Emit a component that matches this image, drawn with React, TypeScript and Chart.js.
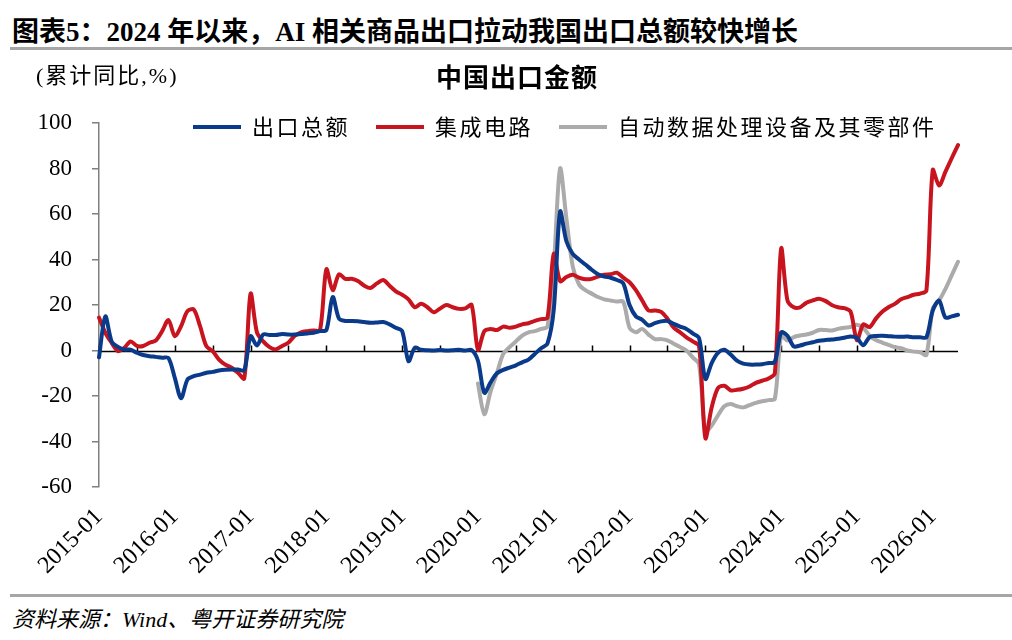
import React, { useEffect, useRef } from 'react';
import { Chart, registerables } from 'chart.js';

Chart.register(...registerables);

// ---------- data ----------
const START_YEAR = 2015;
const MONTH_COUNT = 137; // 2015-01 .. 2026-05
const categories: string[] = Array.from({ length: MONTH_COUNT }, (_, i) =>
  `${START_YEAR + Math.floor(i / 12)}-${String((i % 12) + 1).padStart(2, '0')}`
);

const seriesNames = ['出口总额', '集成电路', '自动数据处理设备及其零部件'];

const totalExports: number[] = [
  -3, 15, 4, 1.6, 0.4, 0.4, -1, -2, -2.5, -2.8, -3.2, -3.3,
  -12, -21, -12.8, -11.3, -10.6, -9.8, -9.4, -8.8, -8.5, -8.4, -8.4, -8.7,
  6.3, 2.2, 7, 6.8, 6.8, 7.3, 7, 7, 7.3, 7.5, 7.8, 8.5,
  9, 23.5, 14, 13, 13, 12.9, 12.5, 12.2, 12.3, 12.5, 11.5, 10,
  8.5, -4.7, 1.2, 0.3, 0.1, 0, 0.2, 0, 0.1, 0.3, 0, 0.2,
  -4.5, -18.6, -14, -10, -8.5, -7.5, -6.5, -5.2, -4, -1.5, 1, 3,
  18, 61, 48, 42.5, 40, 37.8, 35.5, 33.5, 32.5, 32, 31, 29.5,
  20, 15, 13.5, 11, 12, 12.8, 13, 11.7, 10.5, 9.5, 7.5, 5.5,
  -12.5, -5.5, -1, 0.3, -1.8, -4.5, -5.8, -6.2, -6.2, -6, -5.5, -5,
  8, 6.5, 1.8, 2.2, 3, 3.6, 4.3, 4.6, 4.8, 5.2, 5.6, 6.2,
  5.5, 2.3, 5.9, 6.4, 6.5, 6.3, 6.1, 6, 6.1, 5.8, 5.8, 5.8,
  17.5, 22, 14.5, 15, 15.7,
];

const integratedCircuits: number[] = [
  14.5, 7.8, 3.4, -0.3, 1.2, 4, 2, 2, 3.4, 4.4, 8.5, 13.4,
  6.3, 10.7, 17.3, 18, 10.7, 1.9, -0.3, -4, -6.2, -7.6, -9.8, -12.3,
  25, 8, 4, 1.5, 0.5, 2, 3.5, 6.5, 8, 8.5, 8.8, 9,
  35.7, 26.5, 33.5, 31.5, 31.5, 30.5, 28.5, 27.5, 29.5, 31, 28.5, 26,
  24.5, 22.5, 19, 20.5, 19, 16.8, 18.5, 20, 19, 18.3, 18.5, 20,
  0.3, 8.5, 9.5, 9, 10.5, 10, 10.5, 11.5, 12, 13, 13.8, 14.4,
  42.5, 30.5, 32.3, 33.3, 32, 31.3, 31.5, 32.5, 33.3, 33.5, 34.2, 32,
  30, 26.5, 22, 17.6, 17.6, 17, 14, 10, 8, 5.8, 4, 2,
  -38.5, -25, -16.5, -15.5, -17.5, -17.3, -16.8, -15.8, -14.2, -13.3, -12.3, -10,
  44.8, 22, 19, 19, 21, 22, 22.8, 21.8, 20, 19, 18.6, 17,
  4.5, 11.5, 10.3, 14, 17, 19, 20.5, 22.5, 23.5, 24.5, 25, 26.4,
  79.3, 72.5, 78.5, 84.5, 90.3,
];

const dataProcessing: (number | null)[] = [
  null, null, null, null, null, null, null, null, null, null, null, null,
  null, null, null, null, null, null, null, null, null, null, null, null,
  null, null, null, null, null, null, null, null, null, null, null, null,
  null, null, null, null, null, null, null, null, null, null, null, null,
  null, null, null, null, null, null, null, null, null, null, null, null,
  -14.5, -28, -18, -10, -1.5, 1.5, 4, 6.5, 8, 8.5, 9.5, 10.5,
  37, 80, 58, 37, 29, 26.5, 25, 23.5, 22.5, 22, 21.5, 21.5,
  10, 8, 9.5, 7, 5, 5, 4.5, 3, 1.5, 0, -3, -6,
  -35.5, -33, -28.5, -24.5, -23.5, -24.5, -25, -24, -23, -22.3, -21.8, -21.3,
  6.6, 4.4, 5.9, 6.6, 7, 7.8, 9, 9, 8.8, 9.5, 10, 10.3,
  11.3, 10, 6.5, 4.6, 3.5, 2.5, 1.5, 1, 0, -0.5, -0.8, -1.9,
  18.4, 22, 27, 33, 39,
];

const Y_MIN = -60;
const Y_MAX = 100;
const Y_STEP = 20;
const LABEL_EVERY = 12;
const MINOR_TICK_EVERY = 6;

// ---------- styles ----------
const BLUE = '#0A3A8A';
const RED = '#C8141E';
const GRAY = '#ABABAB';
const AXIS_GRAY = '#7F7F7F';
const CANVAS_W = 1012;
const CANVAS_H = 545;
const CANVAS_TOP = 50;
const LEGEND_START_X = 193;
const LEGEND_CENTER_Y = 127 - CANVAS_TOP;
const LEGEND_FONT = 22;
const LEGEND_SPACING = '2.5px';

const zeroAxisPlugin = {
  id: 'zeroAxis',
  beforeDatasetsDraw(chart: any) {
    const { ctx, chartArea, scales } = chart;
    const x = scales.x;
    const y = scales.y;
    const y0 = Math.round(y.getPixelForValue(0)) + 0.5;
    ctx.save();
    ctx.strokeStyle = '#000';
    ctx.lineWidth = 1.5;
    ctx.beginPath();
    ctx.moveTo(chartArea.left, y0);
    ctx.lineTo(chartArea.right, y0);
    ctx.stroke();
    ctx.beginPath();
    for (let i = 0; i < categories.length; i += MINOR_TICK_EVERY) {
      const px = Math.round(x.getPixelForValue(i)) + 0.5;
      ctx.moveTo(px, y0);
      ctx.lineTo(px, y0 - 6);
    }
    ctx.stroke();
    ctx.restore();
  },
};

const legendTweakPlugin = {
  id: 'legendTweak',
  afterInit(chart: any) {
    const lg = chart.legend;
    if (!lg) return;
    const wrap = (name: string) => {
      const orig = lg[name].bind(lg);
      lg[name] = (...args: any[]) => {
        const ctx = chart.ctx as any;
        const prev = ctx.letterSpacing;
        ctx.letterSpacing = LEGEND_SPACING;
        try {
          return orig(...args);
        } finally {
          ctx.letterSpacing = prev ?? '0px';
        }
      };
    };
    wrap('fit');
    wrap('draw');
  },
  afterLayout(chart: any) {
    const lg = chart.legend;
    if (!lg || !lg.lineWidths) return;
    const pad = lg.options.labels.padding;
    const curX = (lg.left + pad + lg.right - lg.lineWidths[0]) / 2;
    const dx = LEGEND_START_X - curX;
    const curY = lg.top + pad + LEGEND_FONT / 2;
    const dy = LEGEND_CENTER_Y - curY;
    lg.left += dx;
    lg.right += dx;
    lg.top += dy;
    lg.bottom += dy;
  },
};

function ExportChart() {
  const ref = useRef<HTMLCanvasElement | null>(null);

  useEffect(() => {
    if (!ref.current) return;
    const lineDs = (label: string, data: (number | null)[], color: string) => ({
      label,
      data,
      borderColor: color,
      backgroundColor: color,
      borderWidth: 4,
      pointRadius: 0,
      pointHoverRadius: 0,
      tension: 0.3,
      spanGaps: false,
      borderCapStyle: 'round' as const,
      borderJoinStyle: 'round' as const,
    });

    const chart = new Chart(ref.current, {
      type: 'line',
      data: {
        labels: categories,
        datasets: [
          lineDs(seriesNames[0], totalExports, BLUE),
          lineDs(seriesNames[1], integratedCircuits, RED),
          lineDs(seriesNames[2], dataProcessing, GRAY),
        ],
      },
      options: {
        responsive: false,
        animation: false,
        events: [],
        layout: { padding: { top: 15, right: 54, bottom: 0, left: 0 } },
        plugins: {
          title: { display: false },
          tooltip: { enabled: false },
          legend: {
            display: true,
            position: 'top',
            align: 'center',
            labels: {
              boxWidth: 48,
              boxHeight: 4,
              padding: 26,
              color: '#000',
              font: { family: '"Noto Sans CJK SC"', size: LEGEND_FONT },
              generateLabels: (c: any) =>
                (Chart.defaults.plugins.legend.labels.generateLabels as any)(c).map((l: any) => ({
                  ...l,
                  lineWidth: 0,
                })),
            },
          },
        },
        scales: {
          x: {
            type: 'category',
            position: 'bottom',
            grid: { display: false, drawTicks: false },
            border: { display: false },
            afterFit: (scale: any) => {
              scale.height = 108;
            },
            ticks: {
              autoSkip: false,
              minRotation: 45,
              maxRotation: 45,
              padding: 16,
              color: '#000',
              font: { family: '"Liberation Serif"', size: 24 },
              callback: (_v: any, i: number) => (i % LABEL_EVERY === 0 ? categories[i] : ''),
            },
          },
          y: {
            min: Y_MIN,
            max: Y_MAX,
            afterFit: (scale: any) => {
              scale.width = 99;
            },
            border: { display: true, color: AXIS_GRAY, width: 1.5 },
            grid: {
              drawOnChartArea: false,
              drawTicks: true,
              tickLength: 7,
              color: AXIS_GRAY,
              lineWidth: 1.5,
            },
            ticks: {
              stepSize: Y_STEP,
              padding: 20,
              color: '#000',
              font: { family: '"Liberation Serif"', size: 23 },
            },
          },
        },
      },
      plugins: [zeroAxisPlugin, legendTweakPlugin],
    });
    return () => chart.destroy();
  }, []);

  return (
    <canvas
      ref={ref}
      width={CANVAS_W}
      height={CANVAS_H}
      style={{ position: 'absolute', left: 0, top: CANVAS_TOP, width: CANVAS_W, height: CANVAS_H }}
    />
  );
}

export default function App() {
  const serifCjk = '"Liberation Serif", "Noto Sans CJK SC", serif';
  return (
    <div
      style={{
        position: 'fixed',
        left: 0,
        top: 0,
        width: 1012,
        height: 640,
        background: '#fff',
        overflow: 'hidden',
      }}
    >
      <div
        style={{
          position: 'absolute',
          left: 12,
          top: 14,
          font: `bold 27px ${serifCjk}`,
          lineHeight: '36px',
          whiteSpace: 'nowrap',
          color: '#000',
        }}
      >
        图表5：2024 年以来，AI 相关商品出口拉动我国出口总额较快增长
      </div>
      <div style={{ position: 'absolute', left: 10, top: 47, width: 1002, height: 3, background: '#A6A6A6' }} />
      <ExportChart />
      <div
        style={{
          position: 'absolute',
          left: 36,
          top: 61,
          font: `22px ${serifCjk}`,
          lineHeight: '30px',
          letterSpacing: '2px',
          whiteSpace: 'nowrap',
          color: '#000',
        }}
      >
        (累计同比,%)
      </div>
      <div
        style={{
          position: 'absolute',
          left: 0,
          top: 61,
          width: 1034,
          textAlign: 'center',
          font: 'bold 26px "Noto Sans CJK SC", sans-serif',
          lineHeight: '30px',
          letterSpacing: '1px',
          whiteSpace: 'nowrap',
          color: '#000',
        }}
      >
        中国出口金额
      </div>
      <div style={{ position: 'absolute', left: 10, top: 594, width: 1002, height: 3, background: '#A6A6A6' }} />
      <div
        style={{
          position: 'absolute',
          left: 12,
          top: 605,
          font: `italic 22px ${serifCjk}`,
          lineHeight: '30px',
          whiteSpace: 'nowrap',
          color: '#000',
        }}
      >
        资料来源：Wind、粤开证券研究院
      </div>
    </div>
  );
}
